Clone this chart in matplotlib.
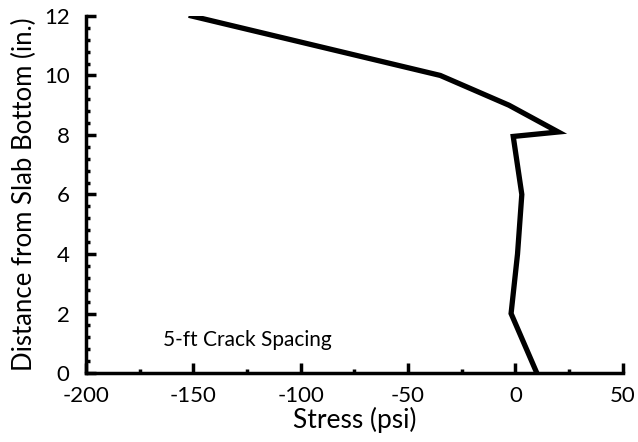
import numpy as np
import matplotlib
matplotlib.use('Agg')
import matplotlib.pyplot as plt
from matplotlib.ticker import MultipleLocator

# stress profile through slab depth
depth = [12, 10, 9, 8.1, 7.95, 6, 4, 2, 0]
stress = [-151, -35, -3, 20, -1, 3, 1, -2, 10]

x_ticks = [-200, -150, -100, -50, 0, 50]
y_ticks = [0, 2, 4, 6, 8, 10, 12]

plt.rcParams['font.family'] = ['Lato', 'DejaVu Sans']
plt.rcParams['axes.unicode_minus'] = False

fig = plt.figure(figsize=(6.38, 4.42), dpi=100)
ax = fig.add_axes([0.135, 0.156, 0.841, 0.808])

ax.plot(stress, depth, color='black', lw=3.8, solid_joinstyle='miter')

ax.set_xlim(-200, 50)
ax.set_ylim(0, 12)
ax.set_xticks(x_ticks)
ax.set_yticks(y_ticks)
ax.xaxis.set_minor_locator(MultipleLocator(25))
ax.yaxis.set_minor_locator(MultipleLocator(0.4))

for s in ['top', 'right']:
    ax.spines[s].set_visible(False)
for s in ['left', 'bottom']:
    ax.spines[s].set_linewidth(2.5)

ax.tick_params(which='major', direction='in', length=7, width=2.5, labelsize=16)
ax.tick_params(axis='x', which='major', pad=9)
ax.tick_params(axis='y', which='major', pad=12)
ax.tick_params(which='minor', direction='in', length=3, width=2.5)

ax.set_xlabel('Stress (psi)', fontsize=19, labelpad=1)
ax.set_ylabel('Distance from Slab Bottom (in.)', fontsize=18.5, labelpad=5)

ax.text(-164, 1.1, '5-ft Crack Spacing', fontsize=15, va='center')

fig.savefig('out.png', dpi=100)
